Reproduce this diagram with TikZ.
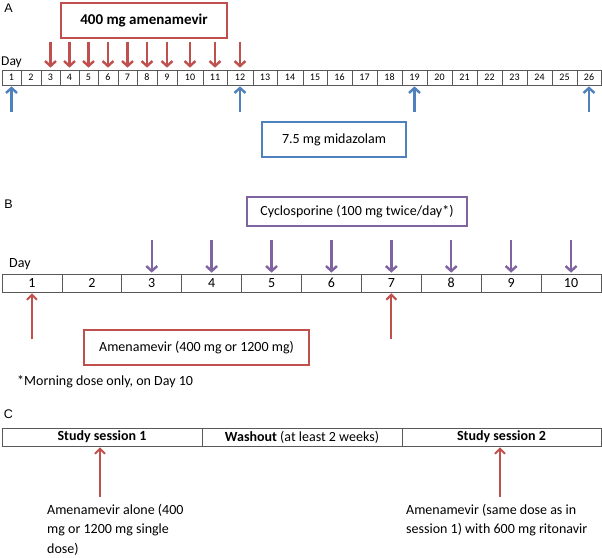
\documentclass[tikz,border=0pt]{standalone}
\usepackage{fontspec}
\setmainfont{Carlito}
\newfontfamily\arialfont{Liberation Sans}
\usetikzlibrary{arrows.meta}
\definecolor{ored}{HTML}{C0504D}
\definecolor{oblue}{HTML}{4F81BD}
\definecolor{opurple}{HTML}{8064A2}
\definecolor{cellgray}{HTML}{595959}
\tikzset{
  cellbox/.style={draw=cellgray, line width=0.7pt, inner sep=0pt, anchor=center},
  smalltext/.style={font=\fontsize{10}{12}\selectfont},
  bodytext/.style={font=\fontsize{14}{17}\selectfont},
  panel/.style={font=\arialfont\fontsize{12.5}{14}\selectfont, inner sep=0pt},
  labelbox/.style={line width=1.4pt, inner sep=0pt, font=\fontsize{14}{17}\selectfont},
  doseline/.style={line width=2.4pt, -{Straight Barb[length=5pt,width=11pt]}},
  thindose/.style={line width=2pt, -{Straight Barb[length=5pt,width=10pt]}},
}
\begin{document}
\begin{tikzpicture}[x=1pt,y=-1pt]
\useasboundingbox[fill=white] (0,0) rectangle (602,557);

% ---------- Panel A ----------
\node[panel] (lA) at (8.5,8) {A};
\node[bodytext, anchor=base west, inner sep=0pt, font=\fontsize{13.5}{16}\selectfont] (dayA) at (1,65) {Day};
\foreach \a/\b [count=\i] in {2/21,21/41,41/60,60/79,79/98,98/118,118/137,137/157,157/177,177/203,203/227,227/253,253/277,277/303,303/327,327/352,352/377,377/402,402/427,427/452,452/477,477/502,502/527,527/552,552/577,577/601}{
  \pgfmathsetmacro\w{\b-\a}
  \pgfmathsetmacro\cx{(\a+\b)/2}
  \node[cellbox, smalltext, minimum width=\w pt, minimum height=15pt] (a\i) at (\cx,77.5) {\i};
}
\node[labelbox, draw=ored, minimum width=166pt, minimum height=35pt, font=\bfseries\fontsize{15}{18}\selectfont] (amenA) at (144,20.5) {400 mg amenamevir};
\node[labelbox, draw=oblue, minimum width=144pt, minimum height=35pt] (midaz) at (334,139.5) {7.5 mg midazolam};
\foreach \i in {3,...,12}{
  \coordinate (ra\i) at ([yshift=28pt]a\i.north);
  \draw[doseline, ored] (ra\i) -- ([yshift=2pt]a\i.north);
}
\foreach \i in {1,12,19,26}{
  \coordinate (ba\i) at ([yshift=-27pt]a\i.south);
  \draw[doseline, oblue] (ba\i) -- ([yshift=-1pt]a\i.south);
}

% ---------- Panel B ----------
\node[panel] (lB) at (8.5,204) {B};
\node[bodytext, anchor=base west, inner sep=0pt] (dayB) at (9,267) {Day};
\foreach \i in {1,...,10}{
  \pgfmathsetmacro\cx{2+59.9*(\i-0.5)}
  \node[cellbox, bodytext, minimum width=59.9pt, minimum height=18pt] (b\i) at (\cx,283) {\i};
}
\node[labelbox, draw=opurple, minimum width=220pt, minimum height=29pt] (cyclo) at (357,211.5) {Cyclosporine (100 mg twice/day*)};
\node[labelbox, draw=ored, minimum width=225pt, minimum height=35pt] (amenB) at (196.5,347.5) {Amenamevir (400 mg or 1200 mg)};
\node[bodytext, anchor=base west, inner sep=0pt] (note) at (17,385) {*Morning dose only, on Day 10};
\foreach \i in {3,...,10}{
  \coordinate (pb\i) at ([yshift=34pt]b\i.north);
  \draw[doseline, opurple] (pb\i) -- ([yshift=1pt]b\i.north);
}
\foreach \i in {1,7}{
  \coordinate (rb\i) at ([yshift=-47pt]b\i.south);
  \draw[thindose, ored] (rb\i) -- ([yshift=-1pt]b\i.south);
}

% ---------- Panel C ----------
\node[panel] (lC) at (8.5,414) {C};
\node[cellbox, bodytext, minimum width=200pt, minimum height=18pt] (s1) at (102,437) {\textbf{Study session 1}};
\node[cellbox, bodytext, minimum width=200pt, minimum height=18pt] (wash) at (302,437) {\textbf{Washout} (at least 2 weeks)};
\node[cellbox, bodytext, minimum width=199pt, minimum height=18pt] (s2) at (501.5,437) {\textbf{Study session 2}};
\coordinate (r1) at (100,497);
\coordinate (r2) at (500,497);
\draw[thindose, ored] (r1) -- ([yshift=-1pt]r1 |- s1.south);
\draw[thindose, ored] (r2) -- ([yshift=-1pt]r2 |- s2.south);
\node[bodytext, anchor=base west, inner sep=0pt] (t1a) at (47,514) {Amenamevir alone (400};
\node[bodytext, anchor=base west, inner sep=0pt] (t1b) at (47,533.5) {mg or 1200 mg single};
\node[bodytext, anchor=base west, inner sep=0pt] (t1c) at (47,553) {dose)};
\node[bodytext, anchor=base west, inner sep=0pt] (t2a) at (406,514) {Amenamevir (same dose as in};
\node[bodytext, anchor=base west, inner sep=0pt] (t2b) at (406,533.5) {session 1) with 600 mg ritonavir};
\end{tikzpicture}
\end{document}
